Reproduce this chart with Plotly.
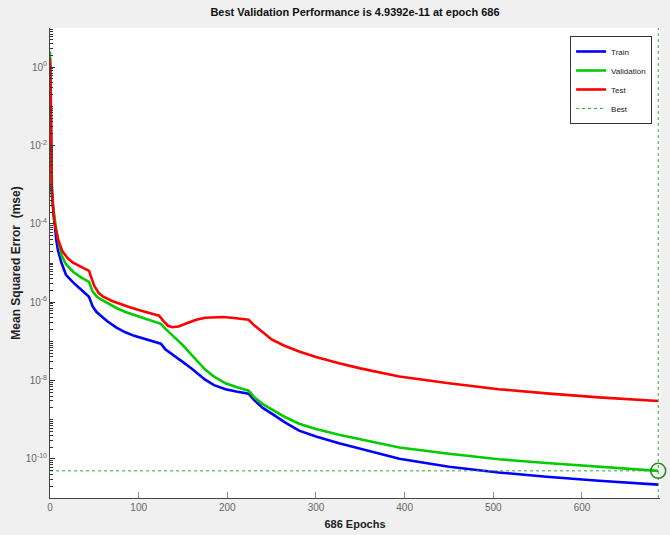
import plotly.graph_objects as go

# ---- data ----
train_epochs = [0, 1, 2, 3, 5, 7, 9, 13, 18, 26, 34, 44, 48, 52, 56, 65, 75, 85, 95, 105, 115, 125,
                130, 140, 150, 160, 175, 185, 198, 210, 224, 230, 240, 251, 265, 281, 300, 326, 350,
                394, 450, 506, 560, 619, 686]
train_mse = [1.26e0, 2.0e-2, 6.3e-4, 3.5e-4, 1.0e-4, 4.0e-5, 2.1e-5, 1.0e-5, 5.0e-6, 3.2e-6, 2.2e-6,
             1.38e-6, 7.9e-7, 5.75e-7, 4.8e-7, 3.2e-7, 2.24e-7, 1.7e-7, 1.38e-7, 1.17e-7, 1.02e-7,
             8.7e-8, 6.3e-8, 4.2e-8, 2.95e-8, 2.0e-8, 1.05e-8, 7.6e-9, 6.0e-9, 5.25e-9, 4.6e-9,
             3.2e-9, 2.0e-9, 1.38e-9, 8.5e-10, 5.25e-10, 3.7e-10, 2.5e-10, 1.82e-10, 1.0e-10,
             6.3e-11, 4.5e-11, 3.5e-11, 2.75e-11, 2.2e-11]

val_epochs = [0, 1, 2, 3, 5, 7, 10, 13, 18, 26, 35, 44, 48, 52, 56, 65, 75, 85, 95, 105, 115, 125,
              130, 140, 150, 161, 175, 185, 198, 210, 224, 230, 240, 251, 265, 281, 300, 326, 350,
              394, 450, 506, 560, 619, 686]
val_mse = [2.5e0, 3.2e-2, 7.9e-4, 3.2e-4, 1.4e-4, 7.1e-5, 3.2e-5, 1.6e-5, 9.3e-6, 6.0e-6, 4.3e-6,
           3.3e-6, 1.9e-6, 1.45e-6, 1.23e-6, 9.3e-7, 7.1e-7, 5.6e-7, 4.7e-7, 4.0e-7, 3.4e-7,
           2.8e-7, 2.1e-7, 1.32e-7, 7.9e-8, 4.2e-8, 1.9e-8, 1.26e-8, 8.5e-9, 6.8e-9, 5.5e-9,
           3.8e-9, 2.5e-9, 1.78e-9, 1.17e-9, 7.9e-10, 5.75e-10, 4.1e-10, 3.2e-10, 1.95e-10,
           1.35e-10, 9.8e-11, 7.8e-11, 6.3e-11, 4.9392e-11]

test_epochs = [0, 1, 2, 3, 4, 5, 7, 9, 14, 20, 26, 35, 44, 47, 50, 55, 60, 70, 80, 90, 100, 110, 120,
               123, 128, 133, 138, 145, 155, 165, 175, 185, 195, 205, 215, 224, 230, 240, 250, 265,
               281, 300, 326, 350, 394, 450, 506, 560, 619, 686]
test_mse = [1.7e0, 1.26e-1, 1.0e-3, 2.8e-4, 1.6e-4, 1.12e-4, 6.3e-5, 4.0e-5, 2.0e-5, 1.32e-5, 1.02e-5,
            7.9e-6, 6.3e-6, 4.0e-6, 2.6e-6, 1.7e-6, 1.38e-6, 1.07e-6, 8.7e-7, 7.4e-7, 6.3e-7, 5.5e-7,
            4.8e-7, 4.5e-7, 3.3e-7, 2.5e-7, 2.3e-7, 2.4e-7, 2.95e-7, 3.55e-7, 4.0e-7, 4.17e-7,
            4.17e-7, 4.0e-7, 3.8e-7, 3.55e-7, 2.6e-7, 1.66e-7, 1.12e-7, 7.6e-8, 5.5e-8, 4.0e-8,
            2.75e-8, 2.04e-8, 1.26e-8, 8.5e-9, 6.0e-9, 4.7e-9, 3.7e-9, 3.0e-9]

best_epoch = 686
best_perf = 4.9392e-11
n_epochs = 686
y_limits = [1e-11, 1e1]
x_tick_vals = [0, 100, 200, 300, 400, 500, 600]
y_tick_vals = [1e-10, 1e-8, 1e-6, 1e-4, 1e-2, 1e0]
y_tick_text = ["10<sup>-10</sup>", "10<sup>-8</sup>", "10<sup>-6</sup>",
               "10<sup>-4</sup>", "10<sup>-2</sup>", "10<sup>0</sup>"]

# minor log ticks (2..9 of each decade plus the odd decades)
minor_vals = []
for d in range(-11, 1):
    for k in range(1, 10):
        v = k * 10.0 ** d
        if k == 1 and d % 2 == 0:
            continue
        minor_vals.append(v)

FONT = "Liberation Sans Narrow, Arial Narrow, Liberation Sans, Arial, sans-serif"

fig = go.Figure()
fig.add_trace(go.Scatter(x=train_epochs, y=train_mse, mode="lines", name="Train",
                         line=dict(color="#0000ff", width=2.6)))
fig.add_trace(go.Scatter(x=val_epochs, y=val_mse, mode="lines", name="Validation",
                         line=dict(color="#00cc00", width=2.6)))
fig.add_trace(go.Scatter(x=test_epochs, y=test_mse, mode="lines", name="Test",
                         line=dict(color="#ff0000", width=2.6)))
fig.add_trace(go.Scatter(x=[0, n_epochs], y=[best_perf, best_perf], mode="lines", name="Best",
                         line=dict(color="#33aa33", width=1, dash="dot")))
fig.add_trace(go.Scatter(x=[best_epoch, best_epoch], y=y_limits, mode="lines", showlegend=False,
                         line=dict(color="#33aa33", width=1, dash="dot")))
fig.add_trace(go.Scatter(x=[best_epoch], y=[best_perf], mode="markers", showlegend=False,
                         cliponaxis=False,
                         marker=dict(symbol="circle-open", size=15, color="#228b22",
                                     line=dict(width=1.5, color="#228b22"))))

fig.update_layout(
    width=670, height=535,
    margin=dict(l=50, r=10, t=28, b=37),
    paper_bgcolor="#f0f0f0",
    plot_bgcolor="white",
    font=dict(family=FONT, color="#000"),
    title=dict(text="<b>Best Validation Performance is 4.9392e-11 at epoch 686</b>",
               x=0.5, xref="paper", xanchor="center",
               y=1 - 12 / 535, yref="container", yanchor="middle",
               font=dict(size=11, color="#111")),
    showlegend=True,
    legend=dict(x=0.987, y=0.983, xanchor="right", yanchor="top",
                bgcolor="white", bordercolor="#333", borderwidth=1,
                font=dict(size=8, color="#222"), tracegroupgap=0,
                itemwidth=30),
)

fig.update_xaxes(
    range=[0, n_epochs + 2],
    tickvals=x_tick_vals,
    ticks="inside", ticklen=6, tickcolor="#888", tickwidth=1,
    showgrid=False, zeroline=False, automargin=False,
    showline=True, linecolor="#444", linewidth=1, mirror=False,
    tickfont=dict(size=10, color="#666"),
    title=dict(text="<b>686 Epochs</b>", font=dict(size=11, color="#222"), standoff=8),
)

fig.update_yaxes(
    type="log",
    range=[-11, 1],
    tickvals=y_tick_vals,
    ticktext=y_tick_text,
    ticks="inside", ticklen=5, tickcolor="#333", tickwidth=1,
    minor=dict(ticks="inside", ticklen=3, tickvals=minor_vals, tickcolor="#333", showgrid=False),
    showgrid=False, zeroline=False, automargin=False,
    showline=True, linecolor="#444", linewidth=1, mirror=False,
    tickfont=dict(size=10, color="#666"),
    title=dict(text="<b>Mean Squared Error &nbsp;(mse)</b>",
               font=dict(size=12, family="Liberation Sans, Arial, sans-serif", color="#222"),
               standoff=2),
)

fig.write_html("out.html", config={"displayModeBar": False},
               post_script="document.body.style.margin='0';")
